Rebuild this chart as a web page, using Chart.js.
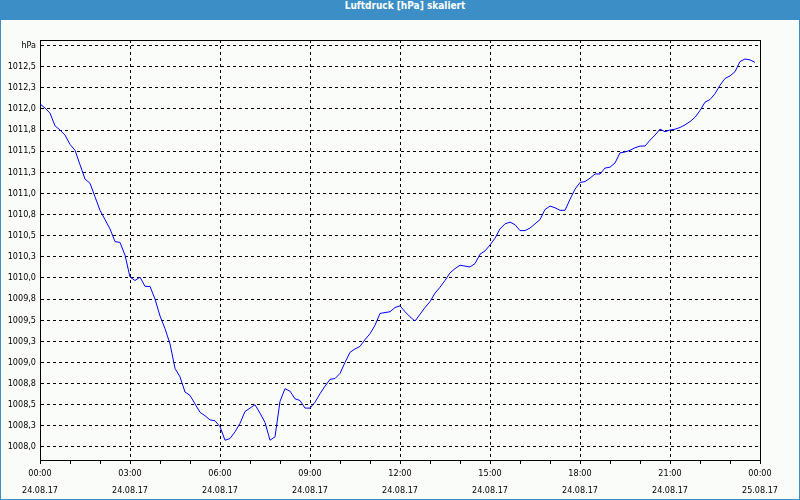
<!DOCTYPE html>
<html>
<head>
<meta charset="utf-8">
<script src="https://cdn.jsdelivr.net/npm/chart.js@4"></script>
<style>
  body { margin: 0; background: #fafcfa; }
  #frame { position: absolute; left: 0; top: 0; width: 800px; height: 500px; box-sizing: border-box;
           border: 1px solid #3b8ec6; border-top: none; background: #fafcfa; }
  #title { position: absolute; left: 0; top: 0; width: 800px; height: 20px; box-sizing: border-box; padding-left: 10px;
           background: #3b8ec6; color: #fff; text-align: center; line-height: 19px;
           font: bold 10px "DejaVu Sans Condensed", "DejaVu Sans", sans-serif; }
  canvas { position: absolute; left: 0; top: 0; }
</style>
</head>
<body>
<div id="frame"></div>
<div id="title">Luftdruck [hPa] skaliert</div>
<canvas id="chart" width="800" height="500"></canvas>
<script>
// Luftdruck alle 10 Minuten, ab 24.08.17 00:00
const stepMinutes = 10;
const pressure = [
  1012.06, 1012.01, 1011.95, 1011.80, 1011.75, 1011.69,
  1011.58, 1011.51, 1011.34, 1011.17, 1011.12, 1010.96,
  1010.80, 1010.69, 1010.58, 1010.43, 1010.42, 1010.27,
  1010.01, 1009.97, 1010.01, 1009.90, 1009.90, 1009.75,
  1009.55, 1009.40, 1009.22, 1008.93, 1008.83, 1008.65,
  1008.61, 1008.51, 1008.41, 1008.37, 1008.32, 1008.31,
  1008.24, 1008.08, 1008.10, 1008.18, 1008.28, 1008.42,
  1008.46, 1008.50, 1008.40, 1008.29, 1008.08, 1008.12,
  1008.54, 1008.69, 1008.66, 1008.57, 1008.55, 1008.46,
  1008.46, 1008.53, 1008.63, 1008.72, 1008.80, 1008.81,
  1008.87, 1009.00, 1009.12, 1009.16, 1009.19, 1009.27,
  1009.34, 1009.44, 1009.58, 1009.59, 1009.60, 1009.65,
  1009.67, 1009.60, 1009.54, 1009.49, 1009.57, 1009.65,
  1009.72, 1009.82, 1009.89, 1009.97, 1010.06, 1010.11,
  1010.15, 1010.14, 1010.13, 1010.17, 1010.28, 1010.32,
  1010.39, 1010.47, 1010.58, 1010.64, 1010.66, 1010.63,
  1010.56, 1010.56, 1010.59, 1010.64, 1010.69, 1010.81,
  1010.85, 1010.83, 1010.80, 1010.80, 1010.93, 1011.05,
  1011.13, 1011.14, 1011.18, 1011.23, 1011.23, 1011.30,
  1011.31, 1011.36, 1011.48, 1011.49, 1011.51, 1011.54,
  1011.56, 1011.56, 1011.63, 1011.69, 1011.76, 1011.73,
  1011.75, 1011.76, 1011.78, 1011.81, 1011.85, 1011.90,
  1011.98, 1012.08, 1012.11, 1012.18, 1012.28, 1012.36,
  1012.39, 1012.44, 1012.56, 1012.59, 1012.58, 1012.55
];

const yTickValues = [1008.0, 1008.25, 1008.5, 1008.75, 1009.0, 1009.25, 1009.5, 1009.75, 1010.0, 1010.25,
                     1010.5, 1010.75, 1011.0, 1011.25, 1011.5, 1011.75, 1012.0, 1012.25, 1012.5, 1012.75];
const yTickLabels = ['1008,0', '1008,3', '1008,5', '1008,8', '1009,0', '1009,3', '1009,5', '1009,8', '1010,0', '1010,3',
                     '1010,5', '1010,8', '1011,0', '1011,3', '1011,5', '1011,8', '1012,0', '1012,3', '1012,5', 'hPa'];

const xTickHours = [0, 1, 2, 3, 4, 5, 6, 7, 8, 9, 10, 11, 12, 13, 14, 15, 16, 17, 18, 19, 20, 21, 22, 23, 24];
const xLabelHours = [0, 3, 6, 9, 12, 15, 18, 21, 24];
const xTimeLabels = ['00:00', '03:00', '06:00', '09:00', '12:00', '15:00', '18:00', '21:00', '00:00'];
const xDateLabels = ['24.08.17', '24.08.17', '24.08.17', '24.08.17', '24.08.17', '24.08.17', '24.08.17', '24.08.17', '25.08.17'];

const fontFamily = '"DejaVu Sans Condensed", "DejaVu Sans", sans-serif';

// solid frame round the plot area
const plotFrame = {
  id: 'plotFrame',
  beforeDatasetsDraw(chart) {
    const { ctx, chartArea: a } = chart;
    ctx.save();
    ctx.strokeStyle = '#000';
    ctx.lineWidth = 1;
    ctx.strokeRect(a.left + 0.5, a.top + 0.5, a.right - a.left, a.bottom - a.top);
    ctx.restore();
  }
};

new Chart(document.getElementById('chart'), {
  type: 'line',
  data: {
    datasets: [{
      data: pressure.map((v, i) => ({ x: i * stepMinutes, y: v })),
      borderColor: '#0000ff',
      borderWidth: 1,
      pointRadius: 0,
      tension: 0
    }]
  },
  options: {
    responsive: false,
    animation: false,
    layout: { padding: { top: 40, right: 40, left: 0, bottom: 0 } },
    plugins: { legend: { display: false }, tooltip: { enabled: false } },
    scales: {
      x: {
        type: 'linear',
        min: 0,
        max: 1440,
        afterBuildTicks: s => { s.ticks = xTickHours.map(h => ({ value: h * 60 })); },
        afterFit: s => { s.height = 40; },
        ticks: {
          autoSkip: false,
          maxRotation: 0,
          padding: 2,
          color: '#000',
          font: { family: fontFamily, size: 9, lineHeight: 1.8 },
          callback: v => {
            const i = xLabelHours.indexOf(v / 60);
            return i < 0 ? '' : [xTimeLabels[i], xDateLabels[i]];
          }
        },
        grid: {
          color: c => {
            const h = c.tick ? c.tick.value / 60 : 0;
            return (h % 3 === 0 && h > 0 && h < 24) ? '#000' : 'transparent';
          },
          tickColor: '#000',
          tickLength: 4
        },
        border: { color: '#000', dash: [3, 3] }
      },
      y: {
        min: 1007.846,
        max: 1012.815,
        afterBuildTicks: s => { s.ticks = yTickValues.map(v => ({ value: v })); },
        afterFit: s => { s.width = 40; },
        ticks: {
          padding: 4,
          color: '#000',
          font: { family: fontFamily, size: 9 },
          callback: v => yTickLabels[yTickValues.indexOf(v)]
        },
        grid: { color: '#000', drawTicks: false },
        border: { color: '#000', dash: [3, 3] }
      }
    }
  },
  plugins: [plotFrame]
});
</script>
</body>
</html>
